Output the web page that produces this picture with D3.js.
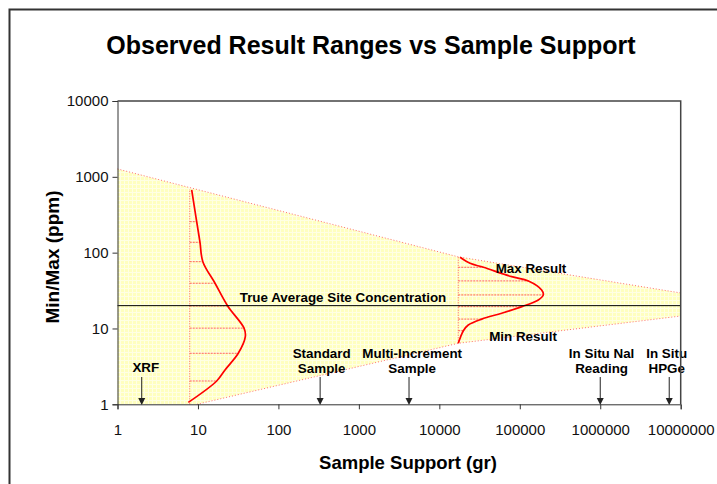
<!DOCTYPE html>
<html>
<head>
<meta charset="utf-8">
<script src="https://cdn.jsdelivr.net/npm/d3@7"></script>
<style>
  body { margin: 0; background: #fff; }
  svg { display: block; font-family: "Liberation Sans", Arial, sans-serif; }
</style>
</head>
<body>
<div id="chart"></div>
<script>
// tick labels
const xTicks = [1, 10, 100, 1000, 10000, 100000, 1000000, 10000000]
const yTicks = [1, 10, 100, 1000, 10000]

// envelope of observed results (gr, ppm)
const upperGr = [1, 17200, 10000000]
const upperPpm = [1270, 88, 29.4]
const lowerGr = [9.7, 17200, 10000000]
const lowerPpm = [1, 6.38, 14.6]

const trueAvg = 20

// small-support distribution
const dist1Base = 7.9
const dist1Top = 690
const dist1Ppm = [671, 256, 137, 76, 39.5, 19.8, 10.1, 7.8, 4.71, 2.84, 2.03, 1.06]
const dist1Gr = [8.36, 9.64, 10.6, 11.5, 16.3, 23.4, 37.4, 38.8, 31.7, 21.7, 17.1, 7.59]
const dist1HatchPpm = [256, 137, 76, 39.5, 19.8, 10.1, 4.71, 2.03]
const dist1HatchGr = [9.64, 10.6, 11.5, 16.3, 23.4, 37.4, 31.7, 17.1]

// multi-increment distribution
const dist2Base = 17200
const dist2Top = 88
const dist2Bottom = 6.38
const dist2Ppm = [87, 72.4, 64.1, 48.2, 42.4, 32.2, 27.7, 23.8, 19.4, 15.9, 13.3, 11.1, 9.35, 6.38]
const dist2Gr = [18100, 24100, 35300, 79400, 128000, 187000, 196000, 170000, 106000, 59700, 33700, 22900, 19900, 17200]
const dist2HatchPpm = [64.1, 42.4, 27.7, 19.4, 13.3, 9.35]
const dist2HatchGr = [35300, 128000, 196000, 106000, 33700, 19900]

// measurement methods marked with arrows
const methodNames = [["XRF"], ["Standard", "Sample"], ["Multi-Increment", "Sample"], ["In Situ Nal", "Reading"], ["In Situ", "HPGe"]]
const methodGr = [2, 330, 4200, 1000000, 7200000]
const methodLabelGr = [2.25, 345, 4600, 1040000, 6700000]

const W = 717, H = 484
const svg = d3.select("#chart").append("svg")
  .attr("width", W).attr("height", H)

const x = d3.scaleLog().domain([1, 10000000]).range([117.5, 680.7])
const y = d3.scaleLog().domain([1, 10000]).range([404.3, 101])

// yellow grid pattern
const defs = svg.append("defs")
const pat = defs.append("pattern")
  .attr("id", "grid").attr("patternUnits", "userSpaceOnUse")
  .attr("width", 4).attr("height", 4)
pat.append("rect").attr("width", 4).attr("height", 4).attr("fill", "#ffffbf")
pat.append("rect").attr("width", 4).attr("height", 1).attr("fill", "#ffffe4")
pat.append("rect").attr("width", 1).attr("height", 4).attr("fill", "#ffffe4")

// outer frame
svg.append("rect")
  .attr("x", 9.5).attr("y", 9.5).attr("width", 760).attr("height", 520)
  .attr("fill", "none").attr("stroke", "#333").attr("stroke-width", 2)

// title
svg.append("text")
  .attr("x", 371).attr("y", 54)
  .attr("text-anchor", "middle")
  .attr("font-size", 25).attr("font-weight", "bold")
  .text("Observed Result Ranges vs Sample Support")

// filled envelope
const upperPts = upperGr.map((g, i) => [g, upperPpm[i]])
const lowerPts = lowerGr.map((g, i) => [g, lowerPpm[i]])
const polyPts = upperPts.concat(lowerPts.slice().reverse(), [[1, 1]])
const line = d3.line().x(d => x(d[0])).y(d => y(d[1]))

svg.append("path")
  .attr("d", line(polyPts) + "Z")
  .attr("fill", "url(#grid)")

svg.append("path").attr("d", line(upperPts))
  .attr("fill", "none").attr("stroke", "#ff7070").attr("stroke-width", 1)
  .attr("stroke-dasharray", "1,2")
svg.append("path").attr("d", line(lowerPts))
  .attr("fill", "none").attr("stroke", "#ff7070").attr("stroke-width", 1)
  .attr("stroke-dasharray", "1,2")

// distributions
function drawDist(base, bottom, top, ppm, gr, hPpm, hGr) {
  svg.append("line")
    .attr("x1", x(base)).attr("x2", x(base))
    .attr("y1", y(bottom)).attr("y2", y(top))
    .attr("stroke", "#ff6060").attr("stroke-width", 1)
    .attr("stroke-dasharray", "1,1.5")
  svg.selectAll(null).data(hPpm).enter().append("line")
    .attr("x1", x(base)).attr("x2", (d, i) => x(hGr[i]))
    .attr("y1", d => y(d)).attr("y2", d => y(d))
    .attr("stroke", "#ff5050").attr("stroke-width", 0.9)
    .attr("stroke-dasharray", "2,1")
  const curve = d3.line()
    .x(d => x(d[0])).y(d => y(d[1]))
    .curve(d3.curveCatmullRom.alpha(0.5))
  svg.append("path")
    .attr("d", curve(gr.map((g, i) => [g, ppm[i]])))
    .attr("fill", "none").attr("stroke", "#ff0000").attr("stroke-width", 1.7)
}
drawDist(dist1Base, 1, dist1Top, dist1Ppm, dist1Gr, dist1HatchPpm, dist1HatchGr)
drawDist(dist2Base, dist2Bottom, dist2Top, dist2Ppm, dist2Gr, dist2HatchPpm, dist2HatchGr)

// true average line
svg.append("line")
  .attr("x1", x(1)).attr("x2", x(10000000))
  .attr("y1", y(trueAvg)).attr("y2", y(trueAvg))
  .attr("stroke", "#000").attr("stroke-width", 1)

const ann = svg.append("g").attr("font-size", 13.4).attr("font-weight", "bold")
  .attr("text-anchor", "middle").attr("fill", "#000")
ann.append("text").attr("x", 343).attr("y", 302).text("True Average Site Concentration")
ann.append("text").attr("x", 531).attr("y", 273).text("Max Result")
ann.append("text").attr("x", 523).attr("y", 341).text("Min Result")

// method labels and arrows
methodNames.forEach((lines, i) => {
  const t = ann.append("text")
    .attr("x", x(methodLabelGr[i]))
    .attr("y", lines.length === 1 ? 372 : 358)
  lines.forEach((s, j) => {
    t.append("tspan").attr("x", x(methodLabelGr[i]))
      .attr("dy", j === 0 ? 0 : 15).text(s)
  })
  const ax = x(methodGr[i])
  svg.append("line")
    .attr("x1", ax).attr("x2", ax).attr("y1", 377).attr("y2", 399)
    .attr("stroke", "#222").attr("stroke-width", 1)
  svg.append("path")
    .attr("d", `M${ax - 3.5},398 L${ax + 3.5},398 L${ax},405 Z`)
    .attr("fill", "#222")
})

// axes
const xAxisCall = d3.axisBottom(x).tickValues(xTicks)
  .tickFormat(d3.format("d")).tickSizeOuter(0).tickSize(5).tickPadding(15)
const yAxisCall = d3.axisLeft(y).tickValues(yTicks)
  .tickFormat(d3.format("d")).tickSizeOuter(0).tickSize(5).tickPadding(4)

const xg = svg.append("g").attr("transform", `translate(0, ${y(1)})`).call(xAxisCall)
const yg = svg.append("g").attr("transform", `translate(${x(1)}, 0)`).call(yAxisCall)
;[xg, yg].forEach(g => {
  g.selectAll("text").attr("font-size", 15).attr("fill", "#111")
    .attr("font-family", "'Liberation Sans', Arial, sans-serif")
  g.selectAll("line").attr("stroke", "#333")
  g.select(".domain").attr("stroke", "#333")
})

// plot border top/right
svg.append("path")
  .attr("d", `M${x(1)},${y(10000)} H${x(10000000)} V${y(1)}`)
  .attr("fill", "none").attr("stroke", "#444").attr("stroke-width", 1.5)

// axis titles
svg.append("text")
  .attr("x", 408).attr("y", 469)
  .attr("text-anchor", "middle")
  .attr("font-size", 18.5).attr("font-weight", "bold")
  .text("Sample Support (gr)")

svg.append("text")
  .attr("transform", "rotate(-90)")
  .attr("x", -257).attr("y", 59)
  .attr("text-anchor", "middle")
  .attr("font-size", 19).attr("font-weight", "bold")
  .text("Min/Max (ppm)")
</script>
</body>
</html>
